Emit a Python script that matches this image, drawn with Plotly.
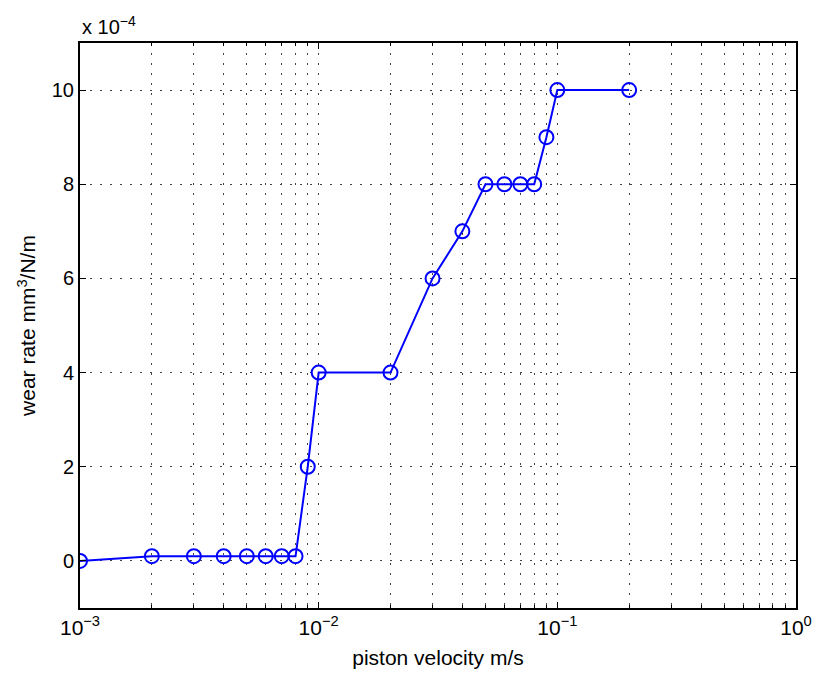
import plotly.graph_objects as go

# piston velocity (m/s) and wear rate (units of 1e-4 mm^3/N/m)
velocity = [0.001, 0.002, 0.003, 0.004, 0.005, 0.006, 0.007, 0.008, 0.009,
            0.01, 0.02, 0.03, 0.04, 0.05, 0.06, 0.07, 0.08, 0.09, 0.1, 0.2]
wear_rate = [0, 0.1, 0.1, 0.1, 0.1, 0.1, 0.1, 0.1, 2,
             4, 4, 6, 7, 8, 8, 8, 8, 9, 10, 10]

x_major = [0.001, 0.01, 0.1, 1]
x_major_text = ["10<sup>−3</sup>", "10<sup>−2</sup>", "10<sup>−1</sup>", "10<sup>0</sup>"]
x_minor = [m * d for d in [0.001, 0.01, 0.1] for m in range(2, 10)]
y_ticks = [0, 2, 4, 6, 8, 10]

font = dict(family="Liberation Sans, Arial, sans-serif", size=21, color="black")
grid_dash = "2px,8px"

fig = go.Figure()
fig.add_trace(go.Scatter(
    x=velocity, y=wear_rate, mode="lines+markers",
    line=dict(color="#0000ff", width=2),
    marker=dict(symbol="circle-open", size=14, color="#0000ff", line=dict(width=2)),
    showlegend=False,
))

fig.update_layout(
    width=814, height=673,
    margin=dict(l=80, r=18, t=43, b=65, autoexpand=False),
    paper_bgcolor="white", plot_bgcolor="white",
    font=font,
    xaxis=dict(
        type="log", range=[-3, 0], automargin=False,
        tickmode="array", tickvals=x_major, ticktext=x_major_text,
        ticks="inside", ticklen=6, tickcolor="black",
        showline=True, linecolor="black", linewidth=2, mirror="ticks",
        showgrid=True, gridcolor="#444", gridwidth=1, griddash=grid_dash,
        zeroline=False,
        minor=dict(tickmode="array", tickvals=x_minor, ticks="inside", ticklen=3,
                   tickcolor="black", showgrid=True, gridcolor="#444",
                   gridwidth=1, griddash=grid_dash),
        title=dict(text="piston velocity m/s", font=dict(size=21), standoff=12),
        tickfont=dict(size=21),
    ),
    yaxis=dict(
        range=[-1, 11], automargin=False,
        tickmode="array", tickvals=y_ticks,
        ticks="inside", ticklen=6, tickcolor="black",
        showline=True, linecolor="black", linewidth=2, mirror="ticks",
        showgrid=True, gridcolor="#444", gridwidth=1, griddash=grid_dash,
        zeroline=False,
        title=dict(text="wear rate mm<sup>3</sup>/N/m", font=dict(size=21), standoff=10),
        tickfont=dict(size=20),
    ),
    annotations=[dict(
        text="x 10<sup>−4</sup>", xref="paper", yref="paper",
        x=0, y=1, xanchor="left", yanchor="bottom", yshift=3,
        showarrow=False, font=dict(size=20),
    )],
)

fig.write_html("out.html")
